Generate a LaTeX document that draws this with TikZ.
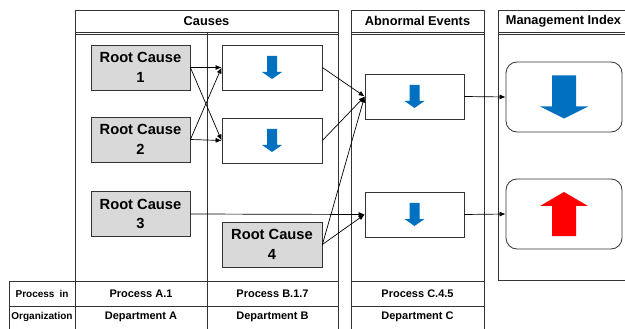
\documentclass[tikz,border=0pt]{standalone}
\usepackage{fontspec}
\setmainfont{Liberation Sans}
\usetikzlibrary{arrows.meta}
\definecolor{lineC}{HTML}{333333}
\definecolor{rcgrey}{HTML}{D9D9D9}
\definecolor{arrowblue}{HTML}{0070C0}
\definecolor{arrowred}{HTML}{FF0000}
\tikzset{
  pool/.style={draw=lineC, line width=0.8pt},
  rcbox/.style={draw=lineC, line width=0.8pt, fill=rcgrey, inner sep=0pt,
    minimum width=99pt, minimum height=45pt, align=center,
    font=\bfseries\fontsize{14.7}{19.5}\selectfont},
  evbox/.style={draw=lineC, line width=0.8pt, fill=white, inner sep=0pt,
    minimum width=100pt, minimum height=45pt},
  mibox/.style={draw=lineC, line width=0.8pt, fill=white, inner sep=0pt,
    rounded corners=11pt, minimum width=116pt, minimum height=70pt},
  conn/.style={draw=black, line width=0.7pt, -{Latex[length=6pt,width=5pt]}},
  headtxt/.style={font=\bfseries\fontsize{12.8}{14}\selectfont, inner sep=0pt},
  celltxt/.style={font=\bfseries\fontsize{11}{13}\selectfont, inner sep=0pt},
  smalltxt/.style={font=\bfseries\fontsize{10}{12}\selectfont, inner sep=0pt},
  smalldown/.pic={\fill[arrowblue] (-5,-11.5) -- (5,-11.5) -- (5,4.5) -- (10,4.5) -- (0,11.5) -- (-10,4.5) -- (-5,4.5) -- cycle;},
  bigdown/.pic={\fill[arrowblue] (-12,-21.5) -- (12,-21.5) -- (12,9.5) -- (24,9.5) -- (0,21.5) -- (-24,9.5) -- (-12,9.5) -- cycle;},
  bigup/.pic={\fill[arrowred] (-12,22) -- (12,22) -- (12,-8) -- (24,-8) -- (0,-22) -- (-24,-8) -- (-12,-8) -- cycle;},
}
\begin{document}
\begin{tikzpicture}[x=1pt,y=-1pt]
\useasboundingbox (0,0) rectangle (625,329);
\clip (0,0) rectangle (625,329);
% pools
\draw[pool] (75,345) -- (75,10) -- (338,10) -- (338,345);
\draw[pool] (75,32) -- (338,32);
\draw[pool] (75,34) -- (338,34);
\draw[pool] (207,33) -- (207,345);
\draw[pool] (351,345) -- (351,10) -- (484,10) -- (484,345);
\draw[pool] (351,32) -- (484,32);
\draw[pool] (351,34) -- (484,34);
\draw[pool] (640,280) -- (498,280) -- (498,10) -- (640,10);
\draw[pool] (498,32) -- (640,32);
\draw[pool] (498,34) -- (640,34);
% bottom table
\draw[pool] (9,345) -- (9,281) -- (338,281);
\draw[pool] (9,306) -- (338,306);
\draw[pool] (351,281) -- (484,281);
\draw[pool] (351,306) -- (484,306);
% headers
\node[headtxt] (hC) at (206.5,21) {Causes};
\node[headtxt] (hA) at (417.5,21) {Abnormal Events};
\node[headtxt] (hM) at (563.5,21) {Management Index};
% table text
\node[smalltxt] (t1) at (42,294) {Process\hspace{5pt}in};
\node[smalltxt] (t2) at (42,317) {Organization};
\node[celltxt] (pA) at (141,294) {Process A.1};
\node[celltxt] (pB) at (272.5,294) {Process B.1.7};
\node[celltxt] (pC) at (417.5,294) {Process C.4.5};
\node[celltxt] (dA) at (141,317) {Department A};
\node[celltxt] (dB) at (272.5,317) {Department B};
\node[celltxt] (dC) at (417.5,317) {Department C};
% nodes
\node[rcbox] (RC1) at (140.5,67.5) {Root Cause\\1};
\node[rcbox] (RC2) at (140.5,139.5) {Root Cause\\2};
\node[rcbox] (RC3) at (140.5,214) {Root Cause\\3};
\node[rcbox, minimum width=100pt] (RC4) at (272,244.5) {Root Cause\\4};
\node[evbox] (B1) at (272,67.5) {};
\node[evbox] (B2) at (272,140.5) {};
\node[evbox, minimum width=99pt] (AE1) at (414.5,96.5) {};
\node[evbox, minimum width=99pt] (AE2) at (414.5,214.5) {};
\node[mibox] (MI1) at (564,97) {};
\node[mibox] (MI2) at (564,214) {};
% arrows inside
\pic at (B1) {smalldown};
\pic at (B2) {smalldown};
\pic at (AE1) {smalldown};
\pic at (AE2) {smalldown};
\pic at (MI1) {bigdown};
\pic at (MI2) {bigup};
% connectors
\draw[conn] (RC1.east) -- (B1.west);
\draw[conn] (RC1.east) -- (B2.west);
\draw[conn] (RC2.east) -- (B2.west);
\draw[conn] (RC2.east) -- (B1.west);
\draw[conn] (B1.east) -- (AE1.west);
\draw[conn] (B2.east) -- (AE1.west);
\draw[conn] (RC4.east) -- (AE1.west);
\draw[conn] (RC4.east) -- (AE2.west);
\draw[conn] (RC3.east) -- (AE2.west);
\draw[conn] (AE1.east) -- (MI1.west);
\draw[conn] (AE2.east) -- (MI2.west);
\end{tikzpicture}
\end{document}
